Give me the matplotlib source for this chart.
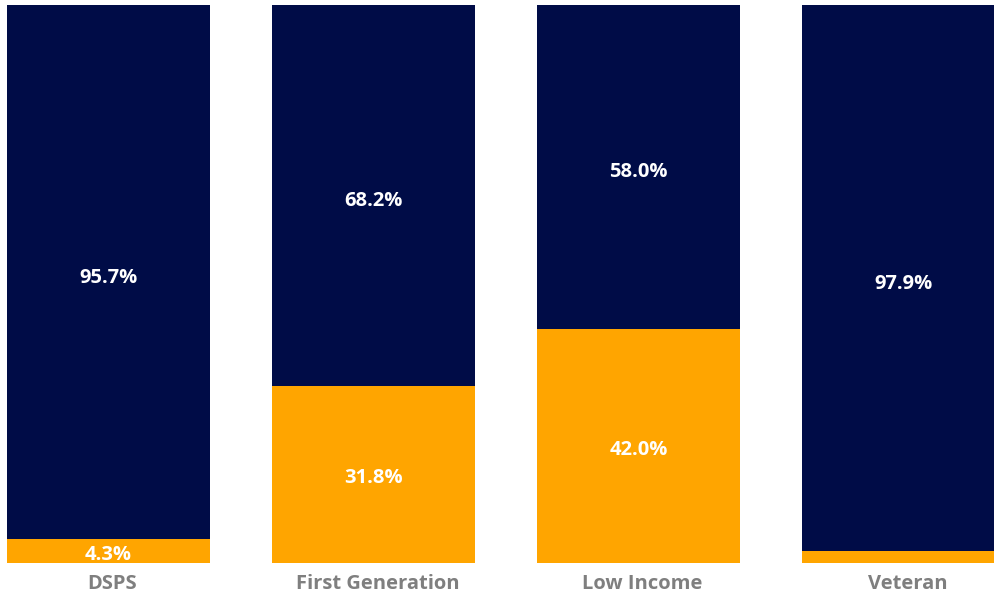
import matplotlib
matplotlib.use("Agg")
import matplotlib.pyplot as plt
import matplotlib.transforms as mtransforms

categories = ["DSPS", "First Generation", "Low Income", "Veteran"]
yes_vals = [4.3, 31.8, 42.0, 2.1]
no_vals = [95.7, 68.2, 58.0, 97.9]
yes_labels = ["4.3%", "31.8%", "42.0%", ""]
no_labels = ["95.7%", "68.2%", "58.0%", "97.9%"]

ORANGE = "#FFA500"
NAVY = "#000C47"

plt.rcParams['font.family'] = ['Open Sans', 'DejaVu Sans']

fig = plt.figure(figsize=(9.95, 5.99), dpi=100)
ax = fig.add_axes([0, 36/599, 1, (594-36)/599])
x = list(range(len(categories)))
w = 0.766
ax.bar(x, yes_vals, width=w, color=ORANGE)
ax.bar(x, no_vals, width=w, bottom=yes_vals, color=NAVY)

for i in x:
    if yes_labels[i]:
        ax.annotate(yes_labels[i], (i, yes_vals[i]/2), xytext=(0, -3), textcoords='offset points',
                    ha='center', va='center', color='white', fontsize=14.5, fontweight='bold')
    ax.annotate(no_labels[i], (i, yes_vals[i] + no_vals[i]/2), xytext=(0, -4), textcoords='offset points',
                ha='center', va='center', color='white', fontsize=14.5, fontweight='bold')

ax.set_xlim(-108.5/265, (995-108.5)/265)
ax.set_ylim(0, 100)
ax.set_xticks(x)
ax.set_xticklabels(categories, fontsize=14.5, fontweight='bold', color='#7F7F7F')
ax.tick_params(axis='x', length=0, pad=8)
offset = mtransforms.ScaledTranslation(4/100, 0, fig.dpi_scale_trans)
for lab in ax.get_xticklabels():
    lab.set_transform(lab.get_transform() + offset)
ax.set_yticks([])
for s in ax.spines.values():
    s.set_visible(False)

fig.savefig("out.png", dpi=100)
